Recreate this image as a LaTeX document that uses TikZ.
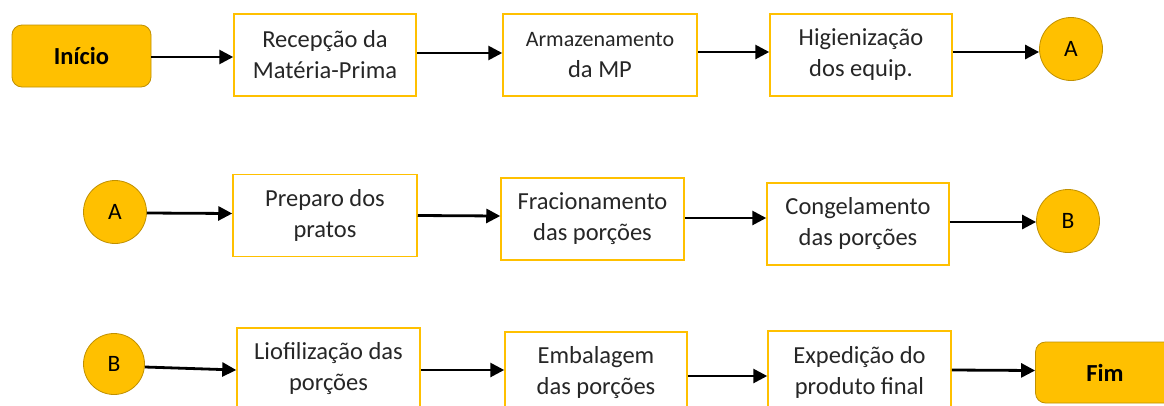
\documentclass[tikz,border=0pt]{standalone}
\usepackage{fontspec}
\setmainfont{Carlito}
\usetikzlibrary{arrows.meta}
\definecolor{gold}{HTML}{FFC000}
\definecolor{golddark}{HTML}{C09000}
\definecolor{txt}{HTML}{262626}
\tikzset{
 stepbox/.style={draw=gold, line width=1.5pt, fill=white, minimum width=182pt, minimum height=82pt, inner sep=0pt, align=center, text=txt, font=\fontsize{24.5}{31}\selectfont},
 term/.style={draw=golddark, line width=0.8pt, fill=gold, rounded corners=10pt, minimum width=139pt, minimum height=62pt, inner sep=0pt, font=\fontsize{24.5}{29}\selectfont\bfseries, text=black},
 conn/.style={circle, draw=golddark, line width=0.8pt, fill=gold, minimum size=63pt, inner sep=0pt, font=\fontsize{23.5}{26}\selectfont, text=black},
 arr/.style={line width=2.8pt, -{Triangle[length=14pt,width=14pt]}, black}
}
\begin{document}
\begin{tikzpicture}[x=1pt,y=-1pt]
\useasboundingbox (0,0) rectangle (1164,405);
\clip (0,0) rectangle (1164,405);
\fill[white] (0,0) rectangle (1164,405);
% row 1
\node[term] (ini) at (81.5,56) {Início};
\node[stepbox] (rec) at (325,55) {Recepção da\\Matéria-Prima};
\node[stepbox, minimum width=194pt] (arm) at (600,55) {{\fontsize{22}{27}\selectfont Armazenamento}\\da MP};
\node[stepbox] (hig) at (861,55) {Higienização\\dos equip.};
\node[conn] (a1) at (1071,49) {A};
% row 2
\node[conn] (a2) at (115,212) {A};
\node[stepbox, minimum width=184pt] (prep) at (325,215.5) {Preparo dos\\pratos};
\node[stepbox, minimum width=183pt] (frac) at (592.5,219) {Fracionamento\\das porções};
\node[stepbox] (cong) at (858,224) {Congelamento\\das porções};
\node[conn] (b1) at (1068,221) {B};
% row 3
\node[conn, minimum size=61pt] (b2) at (114,364) {B};
\node[stepbox, minimum width=183pt] (lio) at (328.5,369) {Liofilização das\\porções};
\node[stepbox] (emb) at (596,373) {Embalagem\\das porções};
\node[stepbox, minimum width=183pt] (exp) at (859.5,372) {Expedição do\\produto final};
\node[term, minimum height=61pt] (fim) at (1105,372.5) {Fim};
% arrows row 1
\draw[arr] ([yshift=-1pt]ini.east) -- ([yshift=-2pt]rec.west);
\draw[arr] ([yshift=2pt]rec.east) -- ([yshift=2pt]arm.west);
\draw[arr] ([yshift=3pt]arm.east) -- ([yshift=3pt]hig.west);
\draw[arr] ([yshift=3pt]hig.east) -- ([yshift=-3pt]a1.west);
% arrows row 2
\draw[arr] ([yshift=-1pt]a2.east) -- ([yshift=2pt]prep.west);
\draw[arr] (prep.east) -- ([yshift=3pt]frac.west);
\draw[arr] ([yshift=1pt]frac.east) -- ([yshift=6pt]cong.west);
\draw[arr] ([yshift=2pt]cong.east) -- ([yshift=-1pt]b1.west);
% arrows row 3
\draw[arr] ([yshift=-3pt]b2.east) -- ([yshift=-1pt]lio.west);
\draw[arr] ([yshift=-1pt]lio.east) -- ([yshift=3pt]emb.west);
\draw[arr] ([yshift=-3pt]emb.east) -- ([yshift=-4pt]exp.west);
\draw[arr] ([yshift=2pt]exp.east) -- ([yshift=2pt]fim.west);
\end{tikzpicture}
\end{document}
